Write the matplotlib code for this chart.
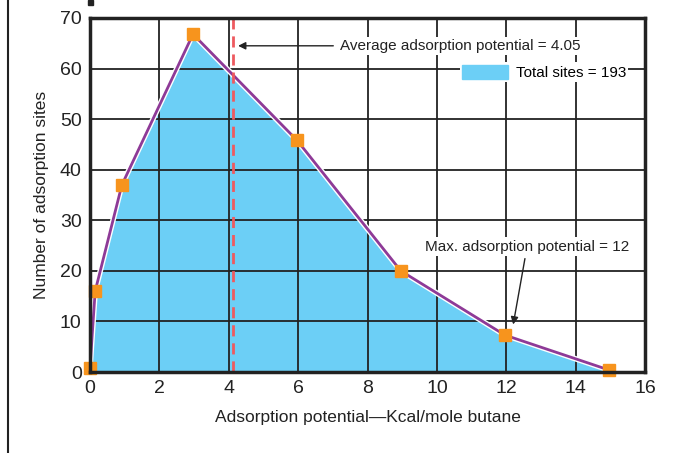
import matplotlib
matplotlib.use("Agg")
import matplotlib.pyplot as plt
from matplotlib.patches import Patch, Rectangle
from matplotlib.lines import Line2D

# data
potential = [0.0, 0.15, 0.92, 2.97, 5.97, 8.96, 11.96, 14.96]
sites = [0.8, 16.0, 37.0, 66.8, 45.8, 20.0, 7.3, 0.4]
avg_potential = 4.12

plt.rcParams["font.family"] = ["Liberation Sans", "DejaVu Sans"]

fig = plt.figure(figsize=(6.75, 4.53), dpi=100)
ax = fig.add_axes([0.1333, 0.1788, 0.8223, 0.7815])

# filled area with white halo, then the purple line and markers
ax.fill_between(potential, 0, sites, color="#6CCFF6", lw=0, zorder=2)
ax.plot(potential, sites, color="white", lw=4, zorder=3, solid_joinstyle="round")
ax.plot(potential, sites, color="#8E3A97", lw=2, zorder=4)
ax.plot(potential, sites, ls="none", marker="s", ms=9, color="#F7941D", zorder=5, clip_on=False)

ax.axvline(avg_potential, color="#EE5A5F", lw=2, ls=(0, (4, 2.5)), zorder=4)

ax.set_xlim(0, 16)
ax.set_ylim(0, 70)
ax.set_xticks(range(0, 17, 2))
ax.set_yticks(range(0, 71, 10))
ax.set_axisbelow(False)
ax.grid(True, color="#222222", lw=1.3)
for gl in ax.get_xgridlines() + ax.get_ygridlines():
    gl.set_zorder(2.5)
ax.tick_params(length=0, labelsize=14, pad=6, colors="#222222")
for s in ax.spines.values():
    s.set_linewidth(2.5)
    s.set_color("#222222")
    s.set_zorder(6)

ax.set_xlabel("Adsorption potential\u2014Kcal/mole butane", fontsize=12.5, color="#222222", labelpad=9)
ax.set_ylabel("Number of adsorption sites", fontsize=12.5, color="#222222", labelpad=8)

# annotations
ax.annotate("Average adsorption potential = 4.05", xy=(4.27, 64.5), xytext=(7.2, 64.5),
            fontsize=11, color="#222222", va="center", ha="left", zorder=7,
            bbox=dict(boxstyle="square,pad=0.15", fc="white", ec="none"),
            arrowprops=dict(arrowstyle="-|>", color="#222222", lw=1, shrinkA=3, shrinkB=0))
ax.annotate("Max. adsorption potential = 12", xy=(12.2, 9.4), xytext=(12.6, 24.8),
            fontsize=11, color="#222222", va="center", ha="center", zorder=7,
            bbox=dict(boxstyle="square,pad=0.15", fc="white", ec="none"),
            arrowprops=dict(arrowstyle="-|>", color="#222222", lw=1, shrinkA=2, shrinkB=0))

leg = ax.legend(handles=[Patch(color="#6CCFF6", label="Total sites = 193")],
                loc="upper right", bbox_to_anchor=(0.97, 0.875), fontsize=11,
                frameon=True, fancybox=False, handlelength=3.0, handleheight=1.1,
                handletextpad=0.5, borderpad=0.15, borderaxespad=0)
leg.get_frame().set_edgecolor("none")
leg.get_frame().set_facecolor("white")
leg.get_frame().set_alpha(1)
leg.set_zorder(7)

# frame pieces outside the chart
fig.add_artist(Line2D([0.012, 0.012], [0, 1], color="#222222", lw=1.5))
fig.add_artist(Rectangle((0.13, 0.99), 0.008, 0.01, color="#222222"))

fig.savefig("out.png", dpi=100)
